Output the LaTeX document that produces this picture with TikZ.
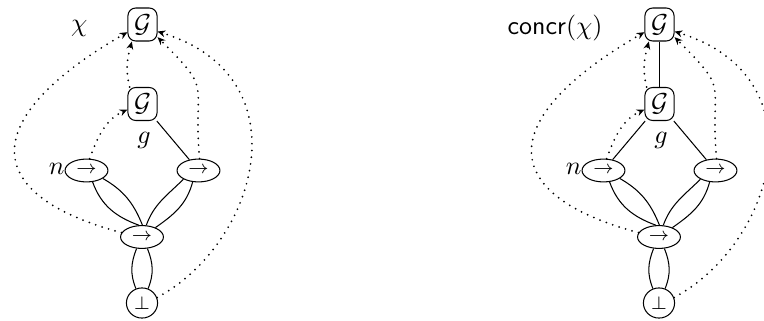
\documentclass[tikz,border=0pt]{standalone}
\usetikzlibrary{arrows.meta,shapes.geometric}
\begin{document}
\begin{tikzpicture}[x=0.385pt,y=0.385pt,
  gbox/.style={draw, rounded corners=3pt, minimum width=11.2pt, minimum height=12.7pt, inner sep=0pt},
  arr/.style={draw, ellipse, minimum width=16.5pt, minimum height=8.8pt, inner sep=0pt, font=\scriptsize},
  botn/.style={draw, ellipse, minimum width=12pt, minimum height=11.6pt, inner sep=0pt, font=\scriptsize},
  lab/.style={inner sep=0pt},
  dots/.style={line width=0.75pt, line cap=round, dash pattern=on 0pt off 2.6pt, -{Stealth[length=3pt,width=2.6pt,line cap=butt]}},
]
\useasboundingbox (0,0) rectangle (764,320);

% ---------- left diagram ----------
\node[gbox] (LtopG) at (142.5,295.5) {$\mathcal{G}$};
\node[gbox] (LmidG) at (142.5,216) {$\mathcal{G}$};
\node[arr] (Ln) at (86.5,149.5) {$\rightarrow$};
\node[arr] (Lr) at (198.5,149.5) {$\rightarrow$};
\node[arr] (Lb) at (142,83) {$\rightarrow$};
\node[botn] (Lbot) at (142,17) {$\bot$};
\node[lab, anchor=east] (Lchi) at (88,291.5) {$\chi$};
\node[lab] (Lg) at (144,180) {$g$};
\node[lab, anchor=east] (Lnl) at (65,151) {$n$};

\draw (LmidG) -- (Lr);
\draw (Ln.-62) to[out=-70,in=160] (Lb.105);
\draw (Ln.-26) to[out=-30,in=112] (Lb.88);
\draw (Lr.-150) to[out=-135,in=70] (Lb.70);
\draw (Lr.-117) to[out=-105,in=35] (Lb.35);
\draw (Lb.-115) to[out=-112,in=112] (Lbot.113);
\draw (Lb.-65) to[out=-68,in=68] (Lbot.67);

\draw[dots] (Ln.75) to[out=70,in=205] (LmidG.200);
\draw[dots] (LmidG.127) to[out=105,in=-105] (LtopG.-122);
\draw[dots] (Lr.85) to[out=95,in=-45,looseness=1.6] (LtopG.-40);
\draw[dots] (Lb.168) .. controls +(165:150) and +(210:170) .. (LtopG.207);
\draw[dots] (Lbot.20) .. controls +(28:113) and +(-17:155) .. (LtopG.-25);

% ---------- right diagram ----------
\node[gbox] (RtopG) at (659.5,295.5) {$\mathcal{G}$};
\node[gbox] (RmidG) at (659.5,216) {$\mathcal{G}$};
\node[arr] (Rn) at (603.5,149.5) {$\rightarrow$};
\node[arr] (Rr) at (715.5,149.5) {$\rightarrow$};
\node[arr] (Rb) at (659,83) {$\rightarrow$};
\node[botn] (Rbot) at (659,17) {$\bot$};
\node[lab, anchor=east] (Rchi) at (603,291.5) {\textsf{concr}$(\chi)$};
\node[lab] (Rg) at (661,180) {$g$};
\node[lab, anchor=east] (Rnl) at (582,151) {$n$};

\draw (RtopG) -- (RmidG);
\draw (RmidG) -- (Rn);
\draw (RmidG) -- (Rr);
\draw (Rn.-62) to[out=-70,in=160] (Rb.105);
\draw (Rn.-26) to[out=-30,in=112] (Rb.88);
\draw (Rr.-150) to[out=-135,in=70] (Rb.70);
\draw (Rr.-117) to[out=-105,in=35] (Rb.35);
\draw (Rb.-115) to[out=-112,in=112] (Rbot.113);
\draw (Rb.-65) to[out=-68,in=68] (Rbot.67);

\draw[dots] (Rn.75) to[out=70,in=205] (RmidG.200);
\draw[dots] (RmidG.127) to[out=105,in=-105] (RtopG.-122);
\draw[dots] (Rr.85) to[out=95,in=-45,looseness=1.6] (RtopG.-40);
\draw[dots] (Rb.168) .. controls +(165:150) and +(210:170) .. (RtopG.207);
\draw[dots] (Rbot.20) .. controls +(28:113) and +(-17:155) .. (RtopG.-25);
\end{tikzpicture}
\end{document}
